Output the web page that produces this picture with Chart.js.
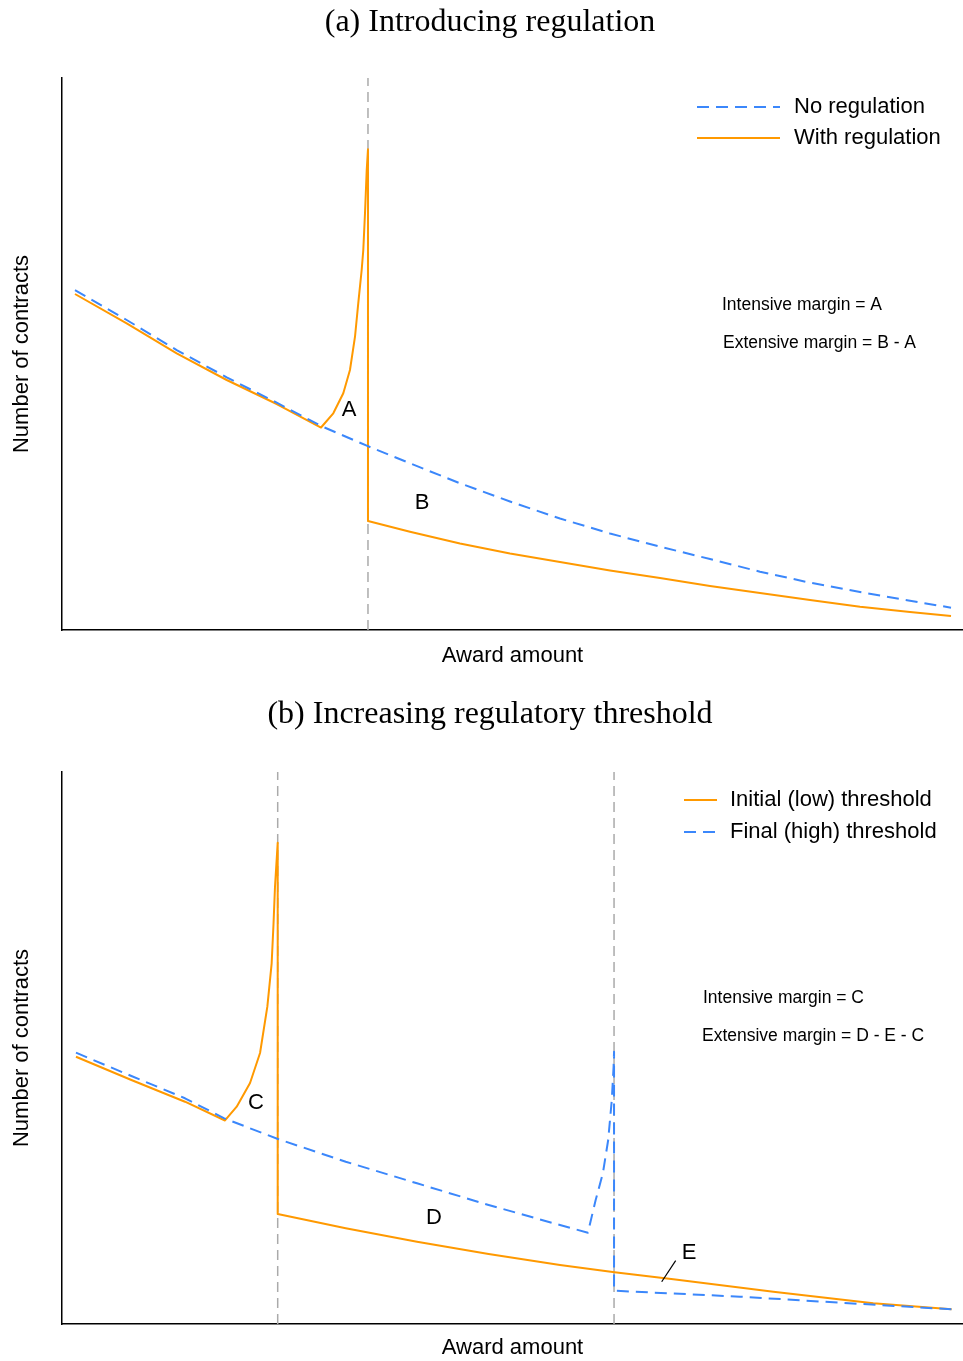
<!DOCTYPE html>
<html>
<head>
<meta charset="utf-8">
<title>Regulation thresholds</title>
<script src="https://cdn.jsdelivr.net/npm/chart.js@4.4.1/dist/chart.umd.min.js"></script>
<style>
  html, body { margin: 0; padding: 0; background: #fff; }
  body { width: 963px; height: 1361px; position: relative; overflow: hidden; }
  .panel { position: absolute; left: 0; width: 963px; }
  .panel canvas { position: absolute; left: 0; top: 0; }
  .panel-title {
    position: absolute; left: 0; top: 0; width: 980px;
    text-align: center; line-height: 40px;
    font-family: "Liberation Serif", "Times New Roman", serif;
    font-size: 32px; color: #000;
  }
</style>
</head>
<body>
<div class="panel" style="top:0; height:669px">
  <canvas id="chart-a" width="963" height="669"></canvas>
  <div class="panel-title">(a) Introducing regulation</div>
</div>
<div class="panel" style="top:694px; height:667px">
  <canvas id="chart-b" width="963" height="667"></canvas>
  <div class="panel-title" style="top:-2px">(b) Increasing regulatory threshold</div>
</div>
<script>
// ----------------------------------------------
// data (x: award amount, y: number of contracts, both 0-100)
// ----------------------------------------------
// (a) introducing regulation
const xNoRegA   = [1.44, 7.18, 12.73, 18.28, 23.83, 28.75, 33.82, 38.62, 44.17, 49.72, 55.27,
                   60.82, 66.37, 71.92, 77.47, 83.02, 88.57, 94.12, 98.67];
const yNoRegA   = [61.59, 56.16, 50.72, 45.78, 41.18, 36.96, 33.39, 30.20, 26.58, 23.28, 20.20,
                   17.48, 15.09, 12.86, 10.56, 8.57, 6.88, 5.31, 4.04];
const xWithRegA = [1.44, 7.18, 12.73, 18.28, 23.83, 28.75, 30.11, 31.22, 31.96, 32.52, 32.88, 33.26,
                   33.44, 33.63, 33.82, 33.96, 33.96, 38.62, 44.17, 49.72, 55.27, 60.82, 66.37,
                   71.92, 77.47, 83.02, 88.57, 94.12, 98.67];
const yWithRegA = [60.87, 55.56, 50.13, 45.29, 40.94, 36.68, 39.26, 42.88, 47.10, 53.13, 59.18, 65.22,
                   68.84, 75.54, 83.33, 87.08, 19.75, 17.81, 15.67, 13.86, 12.32, 10.78, 9.42,
                   7.97, 6.70, 5.43, 4.22, 3.26, 2.54];
const thresholdsA = [33.96];

// (b) increasing regulatory threshold
const xLowB  = [1.55, 7.70, 13.65, 18.09, 19.39, 20.87, 21.98, 22.79, 23.27, 23.47, 23.64, 23.94,
                23.94, 31.49, 39.40, 47.35, 55.27, 61.33, 67.85, 78.95, 90.04, 98.74];
const yLowB  = [48.42, 44.20, 40.27, 36.87, 39.37, 43.66, 49.09, 57.48, 65.34, 72.28, 79.22, 87.19,
                19.93, 17.34, 14.91, 12.68, 10.69, 9.37, 8.10, 5.85, 3.75, 2.66];
const xHighB = [1.55, 7.70, 13.65, 18.01, 23.96, 31.49, 39.40, 47.35, 55.27, 58.37, 59.23, 60.03,
                60.62, 61.02, 61.22, 61.27, 61.27, 75.25, 86.35, 98.74];
const yHighB = [49.15, 44.93, 40.89, 37.26, 33.51, 29.40, 25.49, 21.56, 17.93, 16.54, 22.46, 27.30,
                33.33, 40.58, 46.61, 49.33, 6.03, 4.95, 3.86, 2.66];
const thresholdsB = [23.94, 61.27];

const ORANGE = '#ff9900';
const BLUE   = '#3b87fb';
const GREY   = '#aaaaaa';
const SANS   = '"Liberation Sans", Arial, Helvetica, sans-serif';

const pts = (xs, ys) => xs.map((x, i) => ({ x, y: ys[i] }));

function curve(label, xs, ys, color, dashed, order) {
  return {
    label,
    data: pts(xs, ys),
    borderColor: color,
    borderWidth: 2,
    borderDash: dashed ? [12, 7] : [],
    borderJoinStyle: 'round',
    pointRadius: 0,
    tension: 0,
    fill: false,
    order
  };
}

function thresholdLines(xs) {
  return xs.map(t => ({
    label: '',
    data: [{ x: t, y: 0 }, { x: t, y: 100 }],
    borderColor: GREY,
    borderWidth: 1.5,
    borderDash: [10, 6],
    pointRadius: 0,
    order: 5
  }));
}

// ----------------------------------------------
// labels, leader line and in-plot legend
// ----------------------------------------------
const overlay = {
  id: 'overlay',
  afterDatasetsDraw(chart, args, opts) {
    const { ctx, chartArea } = chart;
    const sx = chart.scales.x, sy = chart.scales.y;
    ctx.save();
    ctx.fillStyle = '#000';
    ctx.textBaseline = 'middle';

    (opts.notes || []).forEach(n => {
      ctx.font = `${n.size}px ${SANS}`;
      ctx.textAlign = n.align || 'center';
      ctx.fillText(n.text, sx.getPixelForValue(n.x), sy.getPixelForValue(n.y));
    });

    (opts.leaders || []).forEach(l => {
      ctx.strokeStyle = '#000';
      ctx.lineWidth = 1.2;
      ctx.setLineDash([]);
      ctx.beginPath();
      ctx.moveTo(sx.getPixelForValue(l[0]), sy.getPixelForValue(l[1]));
      ctx.lineTo(sx.getPixelForValue(l[2]), sy.getPixelForValue(l[3]));
      ctx.stroke();
    });

    const lg = opts.legend;
    if (lg) {
      lg.items.forEach((idx, k) => {
        const ds = chart.data.datasets[idx];
        const yy = chartArea.top + lg.top + k * lg.gap;
        ctx.strokeStyle = ds.borderColor;
        ctx.lineWidth = ds.borderWidth;
        ctx.setLineDash(ds.borderDash || []);
        ctx.beginPath();
        ctx.moveTo(chartArea.left + lg.x0, yy);
        ctx.lineTo(chartArea.left + lg.x1, yy);
        ctx.stroke();
        ctx.font = `22px ${SANS}`;
        ctx.textAlign = 'left';
        ctx.fillText(ds.label, chartArea.left + lg.tx, yy);
      });
    }
    ctx.restore();
  }
};

function axis(title, padding) {
  return {
    type: 'linear',
    min: 0,
    max: 100,
    grid: { display: false, drawTicks: false },
    border: { display: true, color: '#000', width: 1.5 },
    ticks: { display: false },
    title: {
      display: true,
      text: title,
      color: '#000',
      font: { family: SANS, size: 22 },
      padding
    }
  };
}

function makeChart(id, datasets, xPadTop, overlayOpts) {
  return new Chart(document.getElementById(id), {
    type: 'line',
    data: { datasets },
    options: {
      responsive: false,
      animation: false,
      layout: { padding: { top: 78, left: 0, right: 0, bottom: 0 } },
      scales: {
        x: axis('Award amount', { top: xPadTop, bottom: 0 }),
        y: axis('Number of contracts', { top: 8.8, bottom: 26.8 })
      },
      plugins: {
        legend: { display: false },
        tooltip: { enabled: false },
        overlay: overlayOpts
      }
    },
    plugins: [overlay]
  });
}

makeChart('chart-a', [
  curve('No regulation', xNoRegA, yNoRegA, BLUE, true, 0),
  curve('With regulation', xWithRegA, yWithRegA, ORANGE, false, 1),
  ...thresholdLines(thresholdsA)
], 12.6, {
  notes: [
    { text: 'A', x: 31.85, y: 39.9, size: 22 },
    { text: 'B', x: 39.96, y: 23.1, size: 22 },
    { text: 'Intensive margin = A', x: 73.25, y: 58.9, size: 17.5, align: 'left' },
    { text: 'Extensive margin = B - A', x: 73.36, y: 52.0, size: 17.5, align: 'left' }
  ],
  legend: { items: [0, 1], top: 29, gap: 31, x0: 635, x1: 718, tx: 732 }
});

makeChart('chart-b', [
  curve('Final (high) threshold', xHighB, yHighB, BLUE, true, 0),
  curve('Initial (low) threshold', xLowB, yLowB, ORANGE, false, 1),
  ...thresholdLines(thresholdsB)
], 10.6, {
  notes: [
    { text: 'C', x: 21.53, y: 40.1, size: 22 },
    { text: 'D', x: 41.29, y: 19.3, size: 22 },
    { text: 'E', x: 69.59, y: 12.9, size: 22 },
    { text: 'Intensive margin = C', x: 71.14, y: 59.05, size: 17.5, align: 'left' },
    { text: 'Extensive margin = D - E - C', x: 71.03, y: 52.15, size: 17.5, align: 'left' }
  ],
  leaders: [[66.56, 7.66, 68.11, 11.47]],
  legend: { items: [1, 0], top: 28, gap: 32, x0: 622, x1: 655, tx: 668 }
});
</script>
</body>
</html>
